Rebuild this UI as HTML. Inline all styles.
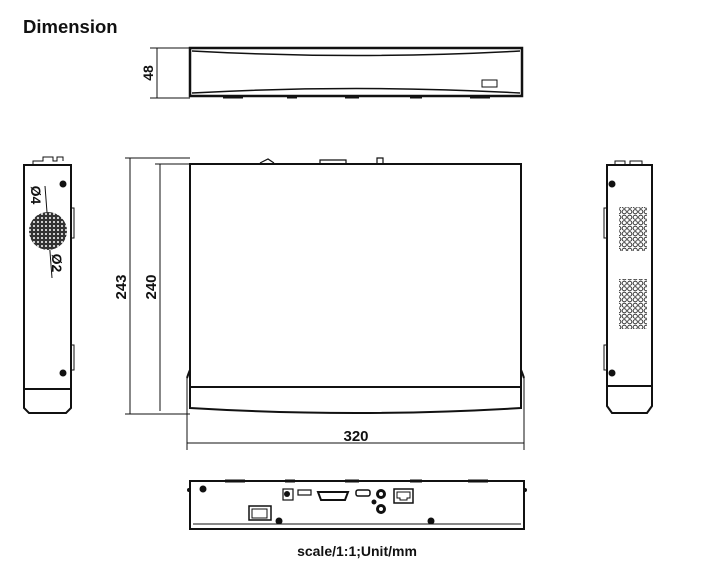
<!DOCTYPE html>
<html><head><meta charset="utf-8"><style>
html,body{margin:0;padding:0;background:#fff;width:727px;height:586px;overflow:hidden}
svg{display:block}
text{font-family:"Liberation Sans",sans-serif;font-weight:bold;fill:#111}
</style></head><body>
<svg width="727" height="586" viewBox="0 0 727 586" xmlns="http://www.w3.org/2000/svg">
<defs>
<pattern id="vent" x="0" y="0" width="5.5" height="5.5" patternUnits="userSpaceOnUse">
<circle cx="2.75" cy="2.75" r="2.1" fill="none" stroke="#222" stroke-width="0.9"/>
</pattern>
<pattern id="spk" x="0" y="0" width="4" height="4" patternUnits="userSpaceOnUse">
<rect x="0" y="0" width="4" height="4" fill="#333"/><rect x="1" y="1" width="2" height="2" fill="#ccc"/>
</pattern>
</defs>
<text x="23" y="33" style="font-family:'Liberation Sans',sans-serif;font-size:18.5px;font-weight:bold">Dimension</text>

<g stroke="#111" fill="none">
<line x1="150" y1="48" x2="190" y2="48" stroke-width="1"/>
<line x1="150" y1="98" x2="190" y2="98" stroke-width="1"/>
<line x1="157" y1="48" x2="157" y2="98" stroke-width="1"/>
<rect x="190" y="48" width="332" height="48" stroke-width="2.5"/>
<path d="M192 51 Q356 60 520 51" stroke-width="1.5"/>
<path d="M192 93 Q356 84 520 93" stroke-width="1.5"/>
<rect x="482" y="80" width="15" height="7" stroke-width="1"/>
<path d="M223 97h20M287 97h10M345 97h14M410 97h12M470 97h20" stroke-width="3"/>
</g>
<text transform="translate(153,73) rotate(-90)" text-anchor="middle" font-size="14">48</text>

<g stroke="#111" fill="none">
<line x1="125" y1="158" x2="190" y2="158" stroke-width="1"/>
<line x1="125" y1="414" x2="190" y2="414" stroke-width="1"/>
<line x1="130" y1="158" x2="130" y2="414" stroke-width="1"/>
<line x1="155" y1="164" x2="190" y2="164" stroke-width="1"/>
<line x1="160" y1="164" x2="160" y2="411" stroke-width="1"/>
<line x1="180" y1="164" x2="450" y2="164" stroke-width="1"/>
<rect x="190" y="164" width="331" height="223" stroke-width="2"/>
<path d="M190 387 V408 Q356 418 521 408 V387" stroke-width="2"/>
<path d="M187 378 Q189 372 190 370M524 378 Q522 372 521 370" stroke-width="2"/>
<line x1="187" y1="378" x2="187" y2="450" stroke-width="1"/>
<line x1="524" y1="378" x2="524" y2="450" stroke-width="1"/>
<line x1="187" y1="443" x2="524" y2="443" stroke-width="1"/>
<path d="M260 163 l8 -4 l6 4M320 160h26v4h-26zM377 164v-6h6v6M425 164h8" stroke-width="1.2"/>
</g>
<text transform="translate(126,287) rotate(-90)" text-anchor="middle" font-size="15">243</text>
<text transform="translate(156,287) rotate(-90)" text-anchor="middle" font-size="15">240</text>
<text x="356" y="441" text-anchor="middle" font-size="15">320</text>

<g stroke="#111" fill="none">
<path d="M24 165 H71 V389 H24 Z" stroke-width="2"/>
<path d="M24 389 V408 L29 413 H66 L71 408 V389" stroke-width="2"/>
<path d="M33 165 v-4 h10 v-4 h10 v4 h4 v-4 h6 v4" stroke-width="1"/>
<path d="M71 208h3v30h-3M71 345h3v25h-3" stroke-width="1"/>
<line x1="45" y1="186" x2="52" y2="278" stroke-width="1"/>
</g>
<circle cx="48" cy="231" r="19" fill="url(#spk)"/>
<circle cx="63" cy="184" r="3.5" fill="#111"/>
<circle cx="63" cy="373" r="3.5" fill="#111"/>
<text transform="translate(31,195) rotate(90)" text-anchor="middle" font-size="14">Ø4</text>
<text transform="translate(52,263) rotate(90)" text-anchor="middle" font-size="14">Ø2</text>

<g stroke="#111" fill="none">
<path d="M607 165 H652 V386 H607 Z" stroke-width="2"/>
<path d="M607 386 V406 L612 413 H647 L652 406 V386" stroke-width="2"/>
<path d="M615 165 v-4 h10 v4 M630 165 v-4 h12 v4" stroke-width="1"/>
<path d="M607 208h-3v30h3M607 345h-3v25h3" stroke-width="1"/>
</g>
<rect x="619" y="207" width="28" height="44" fill="url(#vent)"/>
<rect x="619" y="279" width="28" height="50" fill="url(#vent)"/>
<circle cx="612" cy="184" r="3.5" fill="#111"/>
<circle cx="612" cy="373" r="3.5" fill="#111"/>

<g stroke="#111" fill="none">
<rect x="190" y="481" width="334" height="48" stroke-width="2"/>
<path d="M193 524 H521" stroke-width="1"/>
<path d="M225 481h20M285 481h10M345 481h14M410 481h12M468 481h20" stroke-width="3"/>
<rect x="249" y="506" width="22" height="14" stroke-width="1.5"/>
<rect x="252" y="509" width="15" height="9" stroke-width="1"/>
<rect x="283" y="489" width="10" height="11" stroke-width="1.2"/>
<rect x="298" y="490" width="13" height="5" stroke-width="1.2"/>
<path d="M318 492 h30 l-3 8 h-24 z" stroke-width="2"/>
<rect x="356" y="490" width="14" height="6" rx="2" stroke-width="1.5"/>
<rect x="394" y="489" width="19" height="14" stroke-width="1.5"/>
<path d="M397 492h13v6h-3v2h-7v-2h-3z" stroke-width="1"/>
</g>
<circle cx="203" cy="489" r="3.5" fill="#111"/>
<circle cx="287" cy="494" r="3" fill="#111"/>
<circle cx="279" cy="521" r="3.5" fill="#111"/>
<circle cx="431" cy="521" r="3.5" fill="#111"/>
<circle cx="381" cy="494" r="5" fill="#111"/><circle cx="381" cy="494" r="2" fill="#fff"/>
<circle cx="381" cy="509" r="5" fill="#111"/><circle cx="381" cy="509" r="2" fill="#fff"/>
<circle cx="374" cy="502" r="2.5" fill="#111"/>
<circle cx="189" cy="490" r="2" fill="#111"/><circle cx="525" cy="490" r="2" fill="#111"/>

<text x="357" y="556" text-anchor="middle" font-size="14">scale/1:1;Unit/mm</text>
</svg>
</body></html>
